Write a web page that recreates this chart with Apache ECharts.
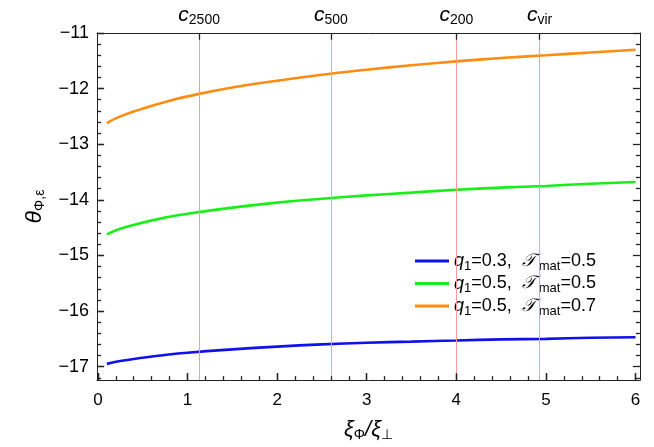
<!DOCTYPE html>
<html>
<head>
<meta charset="utf-8">
<script src="https://cdn.jsdelivr.net/npm/echarts@6/dist/echarts.min.js"></script>
<style>
html,body{margin:0;padding:0;background:#fff;}
#chart{width:654px;height:447px;}
</style>
</head>
<body>
<div id="chart"></div>
<script>
// Ratio of correlation lengths on the horizontal axis
const xi = [0.1, 0.25, 0.5, 0.75, 1, 1.5, 2, 2.5, 3, 3.5, 4, 4.5, 5, 5.5, 6];
// theta values for each parameter set
const thetaQ03T05 = [-16.95, -16.90, -16.84, -16.79, -16.75, -16.69, -16.64, -16.60, -16.57, -16.55, -16.53, -16.51, -16.50, -16.48, -16.47];
const thetaQ05T05 = [-14.62, -14.52, -14.41, -14.32, -14.25, -14.14, -14.05, -13.98, -13.92, -13.87, -13.82, -13.78, -13.75, -13.71, -13.68];
const thetaQ05T07 = [-12.62, -12.50, -12.36, -12.24, -12.14, -11.98, -11.86, -11.75, -11.66, -11.58, -11.51, -11.45, -11.40, -11.35, -11.30];

// Concentration markers along the top axis
const concX = [1.13, 2.6, 4.0, 4.93];
const concSub = ['2500', '500', '200', 'vir'];

// Tick labels
const xTicks = [0, 1, 2, 3, 4, 5, 6];
const yTicks = [-17, -16, -15, -14, -13, -12, -11];

const xMin = -0.01, xMax = 6.05;
const yMin = -17.24, yMax = -11;

const gridBox = { left: 97, right: 14, top: 33, bottom: 50 };
const chartW = 654, chartH = 447;

function minorBetween(majors, step, lo, hi) {
  const out = [];
  const first = majors[0] - 1, last = majors[majors.length - 1] + 1;
  for (let v = first; v <= last + 1e-9; v = Math.round((v + step) * 1000) / 1000) {
    if (v > lo + 1e-6 && v < hi - 1e-6 && majors.indexOf(v) < 0) out.push(v);
  }
  return out;
}
const xMinor = minorBetween(xTicks, 0.2, xMin, xMax);
const yMinor = minorBetween(yTicks, 0.2, yMin, yMax);

const frameColor = '#222';
const fontFam = '"Liberation Sans", Arial, sans-serif';
const minus = v => String(v).replace('-', '\u2212');

// Data units per pixel, used to size the inward frame ticks
const xPerPx = (xMax - xMin) / (chartW - gridBox.left - gridBox.right);
const yPerPx = (yMax - yMin) / (chartH - gridBox.top - gridBox.bottom);

const tickStyle = { color: frameColor, width: 1.3, type: 'solid', opacity: 1 };
function vSeg(x, y0, dy) { return [{ coord: [x, y0], lineStyle: tickStyle }, { coord: [x, y0 + dy] }]; }
function hSeg(x0, y, dx) { return [{ coord: [x0, y], lineStyle: tickStyle }, { coord: [x0 + dx, y] }]; }

const frameTicks = [].concat(
  xTicks.map(v => vSeg(v, yMin + 0.001, 7 * yPerPx)),
  xMinor.map(v => vSeg(v, yMin + 0.001, 4 * yPerPx)),
  yTicks.map(v => hSeg(xMin + 0.001, v, 7 * xPerPx)),
  yMinor.map(v => hSeg(xMin + 0.001, v, 4 * xPerPx)),
  yTicks.map(v => hSeg(xMax - 0.001, v, -7 * xPerPx)),
  yMinor.map(v => hSeg(xMax - 0.001, v, -4 * xPerPx)),
  concX.map(v => vSeg(v, yMax - 0.001, -7 * yPerPx))
);
const concLines = concX.map(x => ({ xAxis: x, lineStyle: { color: '#ff9a9a', width: 1, type: 'solid' } }));

const sub = { fontSize: 13, fontFamily: fontFam, color: '#000', padding: [10, 0, 0, 0] };
const rich = {
  i: { fontStyle: 'italic', fontSize: 18, fontFamily: fontFam, color: '#000' },
  s: sub,
  n: { fontSize: 18, fontFamily: fontFam, color: '#000' },
  t: { fontStyle: 'italic', fontSize: 18, fontFamily: '"DejaVu Serif", serif', color: '#000', padding: [0, 3, 0, 0] }
};

const legendText = {
  'q1=0.3, T=0.5': '{i|q}{s|1}{n|=0.3,  }{t|𝒯}{s|mat}{n|=0.5}',
  'q1=0.5, T=0.5': '{i|q}{s|1}{n|=0.5,  }{t|𝒯}{s|mat}{n|=0.5}',
  'q1=0.5, T=0.7': '{i|q}{s|1}{n|=0.5,  }{t|𝒯}{s|mat}{n|=0.7}'
};

function pairs(ys) { return xi.map((x, k) => [x, ys[k]]); }

function frameAxis(extra) {
  return Object.assign({
    type: 'value',
    axisLine: { show: true, onZero: false, lineStyle: { color: frameColor, width: 1 } },
    splitLine: { show: false },
    axisTick: { show: false },
    axisLabel: { show: false }
  }, extra);
}

const chart = echarts.init(document.getElementById('chart'), null, { renderer: 'canvas' });
chart.setOption({
  animation: false,
  backgroundColor: '#fff',
  grid: Object.assign({ containLabel: false }, gridBox),
  xAxis: [
    frameAxis({
      position: 'bottom', min: xMin, max: xMax,
      axisTick: { show: true, inside: true, length: 7, customValues: xTicks, lineStyle: { color: frameColor, width: 1.3 } },
      axisLabel: { show: true, customValues: xTicks, margin: 12, fontSize: 17, fontFamily: fontFam, color: '#000', formatter: v => minus(v) },
      name: '{g|ξ}{s|Φ}{g|/ξ}{s|⊥}', nameLocation: 'middle', nameGap: 37,
      nameTextStyle: { rich: { g: { fontStyle: 'italic', fontSize: 22, fontFamily: fontFam, color: '#000' }, s: { fontSize: 14, fontFamily: fontFam, color: '#000', padding: [11, 0, 0, 0] } } }
    }),
    frameAxis({
      position: 'top', min: xMin, max: xMax,
      axisLabel: {
        show: true, customValues: concX, margin: 6,
        formatter: v => { const k = concX.indexOf(v); return '{c|c}{s|' + concSub[k] + '}'; },
        rich: { c: { fontStyle: 'italic', fontSize: 21, fontFamily: fontFam, color: '#000' }, s: { fontSize: 14, fontFamily: fontFam, color: '#000', padding: [10, 0, 0, 0] } }
      }
    })
  ],
  yAxis: [
    frameAxis({
      position: 'left', min: yMin, max: yMax,
      axisTick: { show: true, inside: true, length: 7, customValues: yTicks, lineStyle: { color: frameColor, width: 1.3 } },
      axisLabel: { show: true, customValues: yTicks, margin: 8, fontSize: 18, fontFamily: fontFam, color: '#000', formatter: v => minus(v) },
      name: '{g|θ}{s|Φ,ε}', nameLocation: 'middle', nameGap: 50, nameRotate: 90,
      nameTextStyle: { rich: { g: { fontStyle: 'italic', fontSize: 23, fontFamily: fontFam, color: '#000' }, s: { fontSize: 14, fontFamily: fontFam, color: '#000', padding: [11, 0, 0, 0] } } }
    }),
    frameAxis({ position: 'right', min: yMin, max: yMax })
  ],
  legend: {
    orient: 'vertical', left: 410, top: 247, itemGap: 2,
    itemWidth: 34, itemHeight: 3, icon: 'rect',
    data: Object.keys(legendText),
    formatter: name => legendText[name],
    textStyle: { rich: rich }
  },
  series: [
    {
      name: 'q1=0.3, T=0.5', type: 'line', data: pairs(thetaQ03T05), smooth: true, showSymbol: false,
      lineStyle: { color: '#1010e8', width: 2.6 }, itemStyle: { color: '#1010e8' },
      markLine: {
        silent: true, symbol: 'none', label: { show: false }, animation: false,
        lineStyle: { color: frameColor, width: 1.3, type: 'solid', opacity: 1 },
        emphasis: { disabled: true },
        data: concLines.concat(frameTicks)
      },
      z: 3
    },
    {
      name: 'q1=0.5, T=0.5', type: 'line', data: pairs(thetaQ05T05), smooth: true, showSymbol: false,
      lineStyle: { color: '#19ee19', width: 2.6 }, itemStyle: { color: '#19ee19' }, z: 3
    },
    {
      name: 'q1=0.5, T=0.7', type: 'line', data: pairs(thetaQ05T07), smooth: true, showSymbol: false,
      lineStyle: { color: '#ff8c10', width: 2.6 }, itemStyle: { color: '#ff8c10' }, z: 3
    },
    { type: 'line', data: [], xAxisIndex: 1, yAxisIndex: 1, silent: true }
  ]
});
</script>
</body>
</html>
